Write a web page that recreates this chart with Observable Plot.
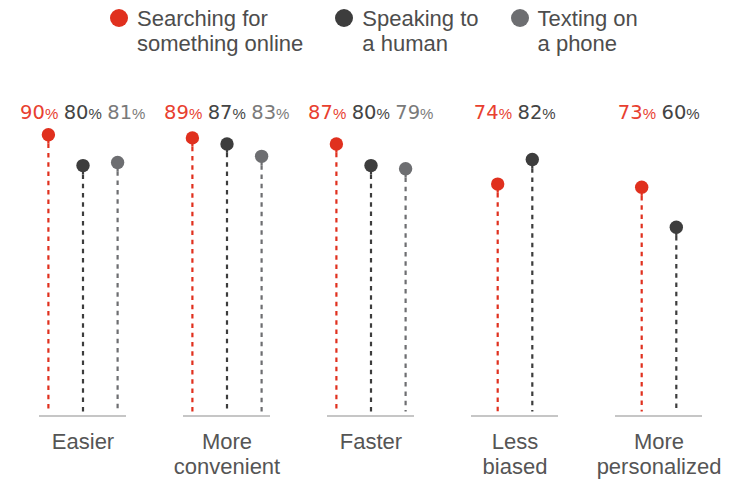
<!DOCTYPE html>
<html><head><meta charset="utf-8">
<script src="https://cdn.jsdelivr.net/npm/d3@7"></script>
<script src="https://cdn.jsdelivr.net/npm/@observablehq/plot@0.6"></script>
<style>
body{margin:0;background:#fff;font-family:"Liberation Sans",Arial,sans-serif;}
#legend{display:flex;height:58px;box-sizing:border-box;padding:5.5px 0 0 110px;gap:32px;}
.item{display:flex;align-items:flex-start;}
.sw{width:18px;height:18px;border-radius:50%;margin-top:3.5px;margin-right:9px;flex:none}
.lbl{font-size:22px;line-height:25.5px;color:#4d4d4d;white-space:pre}
</style></head><body>
<div id="legend"></div><div id="chart"></div>
<script>
const categories = ["Easier", "More\nconvenient", "Faster", "Less\nbiased", "More\npersonalized"];
const seriesNames = ["Searching for\nsomething online", "Speaking to\na human", "Texting on\na phone"];
const searching = [90, 89, 87, 74, 73];
const speaking = [80, 87, 80, 82, 60];
const texting = [81, 83, 79, null, null];
const dotColors = ["#e0301e", "#3d3d3d", "#6d6e71"];
const labelColors = ["#e8402f", "#444444", "#7a7a7a"];

const seriesValues = [searching, speaking, texting];
const rows = [];
categories.forEach((cat, c) => {
  const present = seriesValues.map((v, s) => ({s, value: v[c]})).filter(d => d.value != null);
  const n = present.length;
  present.forEach((d, k) => rows.push({cat, s: d.s, value: d.value, slot: k - (n - 1) / 2}));
});

// legend
const legend = document.getElementById("legend");
seriesNames.forEach((name, s) => {
  const it = document.createElement("div"); it.className = "item";
  const sw = document.createElement("div"); sw.className = "sw"; sw.style.background = dotColors[s];
  const lb = document.createElement("div"); lb.className = "lbl"; lb.textContent = name;
  it.appendChild(sw); it.appendChild(lb); legend.appendChild(it);
});

const marks = [
  Plot.ruleY([0], {dy: 4, stroke: "#c6c6c6", strokeWidth: 2})
];
seriesValues.forEach((_, s) => {
  const d = rows.filter(r => r.s === s);
  marks.push(
    Plot.ruleX(d, {fx: "cat", x: "slot", y1: "value", y2: 0, stroke: dotColors[s], strokeWidth: 2.2, strokeDasharray: "4.5,4.8"}),
    Plot.ruleX(d, {fx: "cat", x: "slot", y1: "value", y2: r => r.value - 3, stroke: dotColors[s], strokeWidth: 2.2}),
    Plot.dot(d, {fx: "cat", x: "slot", y: "value", r: 6.7, fill: dotColors[s]}),
    Plot.text(d, {fx: "cat", x: r => r.slot * 1.26, frameAnchor: "top", lineAnchor: "bottom", dy: 14.5, dx: 5.5,
      text: r => String(r.value), textAnchor: "end", fill: labelColors[s], fontSize: 19.5, fontFamily: "DejaVu Sans"}),
    Plot.text(d, {fx: "cat", x: r => r.slot * 1.26, frameAnchor: "top", lineAnchor: "bottom", dy: 14.5, dx: 5.5,
      text: () => "%", textAnchor: "start", fill: labelColors[s], fontSize: 15, fontFamily: "Liberation Sans"})
  );
});
marks.push(
  Plot.text(categories, {fx: c => c, text: c => c, frameAnchor: "bottom", lineAnchor: "top", dy: 19,
    fontSize: 22, lineHeight: 1.136, fill: "#555555", fontFamily: "Liberation Sans"})
);

const chart = Plot.plot({
  width: 739,
  height: 426,
  marginLeft: 37,
  marginRight: 36,
  marginTop: 45.5,
  marginBottom: 72.5,
  style: {fontFamily: "Liberation Sans, Arial, sans-serif", background: "#fff"},
  fx: {domain: categories, paddingInner: 0.399, paddingOuter: 0, axis: null},
  x: {domain: [-1.257, 1.257], axis: null},
  y: {domain: [0, 100], axis: null},
  marks
});
document.getElementById("chart").appendChild(chart);
</script>
</body></html>
